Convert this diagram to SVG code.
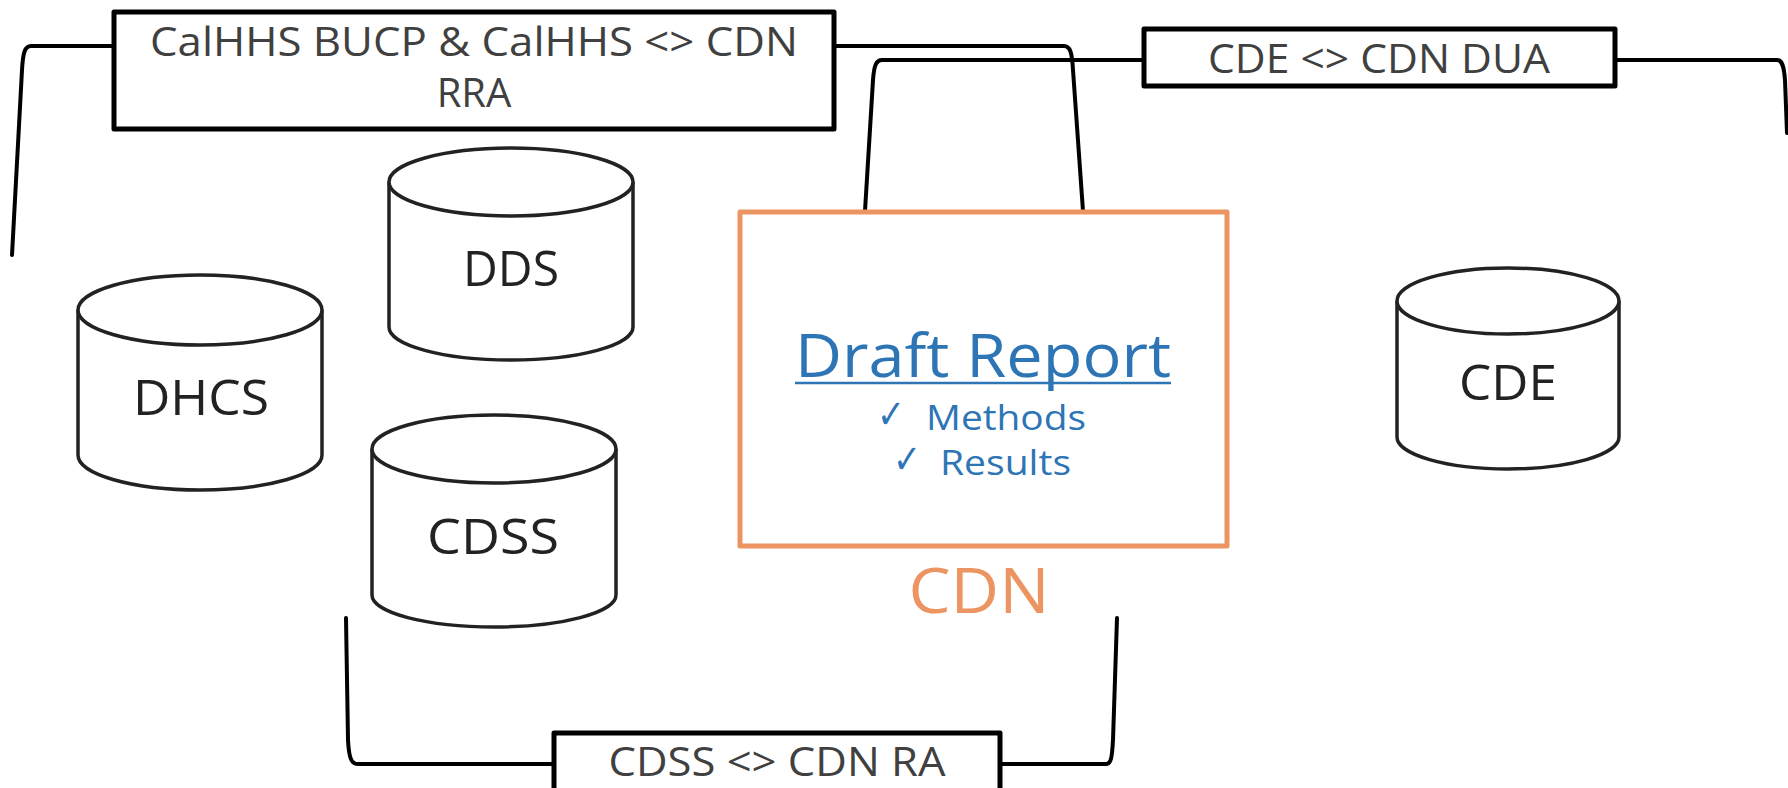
<svg xmlns="http://www.w3.org/2000/svg" width="1788" height="788" viewBox="0 0 1788 788">
<style>
.conn{fill:none;stroke:#000;stroke-width:4;stroke-linejoin:round;stroke-linecap:round}
.lbl{fill:#fff;stroke:#000;stroke-width:5;stroke-linejoin:round}
.lt{font-family:"Open Sans","Liberation Sans",sans-serif;font-size:40px;fill:#404040;text-anchor:middle}
.cyl{fill:#fff;stroke:#222;stroke-width:3.5}
.ct{font-family:"Open Sans","Liberation Sans",sans-serif;font-size:50px;fill:#222;text-anchor:middle}
.blue{font-family:"Open Sans","Liberation Sans",sans-serif;fill:#2E75B6}
.chk{font-family:"DejaVu Sans",sans-serif;font-size:40px;fill:#2E75B6}
</style>
<rect width="1788" height="788" fill="#fff"/>
<g id="connectors">
<path class="conn" d="M114,46 L31,46 C25,46 23,52 22,70 L12,255"/>
<path class="conn" d="M832,46 L1064,46 C1070,46 1072,52 1073,70 L1083,211"/>
<path class="conn" d="M1144,60 L882,60 C876,60 874,66 873,80 L865,211"/>
<path class="conn" d="M1615,60 L1777,60 C1782,60 1784,66 1785,80 L1787,133"/>
<path class="conn" d="M346,618 L348,740 C349,760 352,764 358,764 L554,764"/>
<path class="conn" d="M1001,764 L1106,764 C1111,764 1112,758 1113,740 L1117,618"/>
</g>
<g id="rra">
<rect class="lbl" x="114" y="12" width="720" height="117"/>
<text class="lt" x="474" y="56" textLength="648" lengthAdjust="spacingAndGlyphs">CalHHS BUCP &amp; CalHHS &lt;&gt; CDN</text>
<text class="lt" x="474" y="107">RRA</text>
</g>
<g id="dua">
<rect class="lbl" x="1144" y="29" width="471" height="57"/>
<text class="lt" x="1379" y="73" textLength="342" lengthAdjust="spacingAndGlyphs">CDE &lt;&gt; CDN DUA</text>
</g>
<g id="ra">
<rect class="lbl" x="554" y="733" width="446" height="70"/>
<text class="lt" x="777" y="776" font-size="38" textLength="337" lengthAdjust="spacingAndGlyphs">CDSS &lt;&gt; CDN RA</text>
</g>
<g id="dhcs">
<path class="cyl" d="M78,310 L78,455 A122,35 0 0 0 322,455 L322,310"/>
<ellipse class="cyl" cx="200" cy="310" rx="122" ry="35"/>
<text class="ct" x="201" y="415" textLength="136" lengthAdjust="spacingAndGlyphs">DHCS</text>
</g>
<g id="dds">
<path class="cyl" d="M389,182 L389,327 A122,33 0 0 0 633,327 L633,182"/>
<ellipse class="cyl" cx="511" cy="182" rx="122" ry="34"/>
<text class="ct" x="511" y="286" textLength="96" lengthAdjust="spacingAndGlyphs">DDS</text>
</g>
<g id="cdss">
<path class="cyl" d="M372,449 L372,595 A122,32 0 0 0 616,595 L616,449"/>
<ellipse class="cyl" cx="494" cy="449" rx="122" ry="34"/>
<text class="ct" x="493" y="554" textLength="132" lengthAdjust="spacingAndGlyphs">CDSS</text>
</g>
<g id="cde">
<path class="cyl" d="M1397,301 L1397,437 A111,32 0 0 0 1619,437 L1619,301"/>
<ellipse class="cyl" cx="1508" cy="301" rx="111" ry="33"/>
<text class="ct" x="1508" y="400" textLength="98" lengthAdjust="spacingAndGlyphs">CDE</text>
</g>
<g id="cdn">
<rect x="740" y="212" width="487" height="334" fill="#fff" stroke="#EC9562" stroke-width="5" stroke-linejoin="round"/>
<text class="blue" x="983" y="377" font-size="60" text-anchor="middle" textLength="376" lengthAdjust="spacingAndGlyphs">Draft Report</text>
<line x1="795" y1="383" x2="1171" y2="383" stroke="#2E75B6" stroke-width="2.5"/>
<text class="chk" x="877" y="428" textLength="28" lengthAdjust="spacingAndGlyphs">✓</text>
<text class="blue" x="926" y="430" font-size="35" textLength="160" lengthAdjust="spacingAndGlyphs">Methods</text>
<text class="chk" x="893" y="473" textLength="28" lengthAdjust="spacingAndGlyphs">✓</text>
<text class="blue" x="940" y="475" font-size="35" textLength="131" lengthAdjust="spacingAndGlyphs">Results</text>
<text x="979" y="613" font-family="Open Sans,Liberation Sans,sans-serif" font-size="62" fill="#EC9562" text-anchor="middle" textLength="141" lengthAdjust="spacingAndGlyphs">CDN</text>
</g>
</svg>
